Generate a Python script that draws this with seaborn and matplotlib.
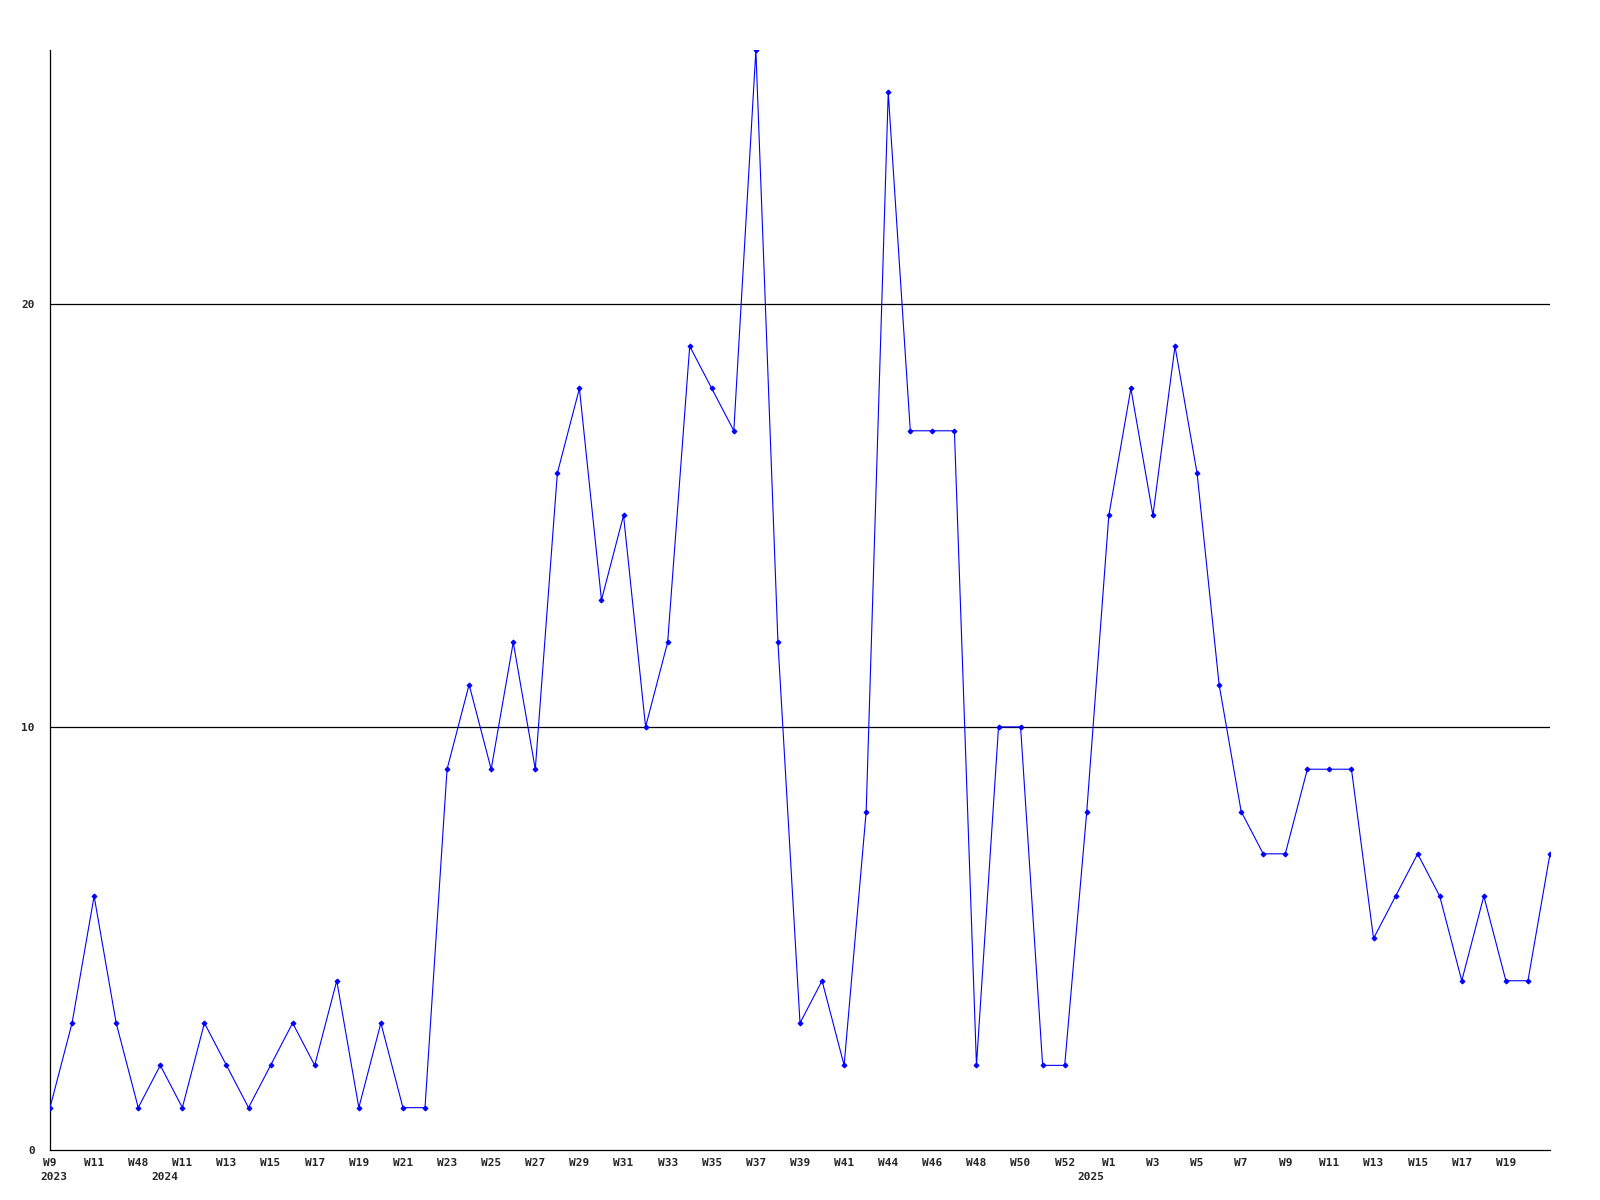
import matplotlib
matplotlib.use('Agg')
import matplotlib.pyplot as plt
import pandas as pd
import seaborn as sns

# weekly counts, one per point left to right
counts = [1, 3, 6, 3, 1, 2, 1, 3, 2, 1, 2, 3, 2, 4, 1, 3, 1, 1,
          9, 11, 9, 12, 9, 16, 18, 13, 15, 10, 12, 19, 18, 17, 26, 12,
          3, 4, 2, 8, 25, 17, 17, 17, 2, 10, 10, 2, 2, 8, 15, 18, 15,
          19, 16, 11, 8, 7, 7, 9, 9, 9, 5, 6, 7, 6, 4, 6, 4, 4, 7]

# labels shown under every other point
week_labels = ["W9", "W11", "W48", "W11", "W13", "W15", "W17", "W19", "W21",
               "W23", "W25", "W27", "W29", "W31", "W33", "W35", "W37", "W39",
               "W41", "W44", "W46", "W48", "W50", "W52", "W1", "W3", "W5",
               "W7", "W9", "W11", "W13", "W15", "W17", "W19"]
year_labels = ["2023", "2024", "2025"]
year_positions = [0, 5, 47]

y_ticks = [0, 10, 20]

df = pd.DataFrame({"idx": range(len(counts)), "count": counts})

sns.set_style("white")
plt.rcParams['font.family'] = ['DejaVu Sans Mono']

fig = plt.figure(figsize=(16, 12), dpi=100)
ax = fig.add_axes([0.03125, 0.0417, 0.9375, 0.9166])

# grid lines first so the series sits on top
for yv in y_ticks[1:]:
    ax.axhline(yv, color='black', linewidth=0.9, zorder=1)

sns.lineplot(data=df, x="idx", y="count", ax=ax, color="blue",
             linewidth=0.8, marker="D", markersize=2.5,
             markeredgecolor="blue", zorder=3)

ax.set_xlim(0, len(counts) - 1)
ax.set_ylim(0, 26)

ax.set_xticks(range(0, 2 * len(week_labels), 2))
ax.set_xticklabels(week_labels, fontsize=8, fontweight='bold')
ax.set_yticks(y_ticks)
ax.set_yticklabels([str(v) for v in y_ticks], fontsize=8, fontweight='bold')
ax.tick_params(axis='both', length=0)
ax.tick_params(axis='x', pad=6)
ax.tick_params(axis='y', pad=11)

for label, pos in zip(year_labels, year_positions):
    ax.annotate(label, xy=(pos, 0), xycoords=('data', 'axes fraction'),
                xytext=(3, -19.5), textcoords='offset points',
                ha='center', va='center', fontsize=8, fontweight='bold')

ax.set_xlabel("")
ax.set_ylabel("")
for side in ['top', 'right']:
    ax.spines[side].set_visible(False)
for side in ['left', 'bottom']:
    ax.spines[side].set_color('black')
    ax.spines[side].set_linewidth(0.9)

fig.savefig("out.png", dpi=100)
